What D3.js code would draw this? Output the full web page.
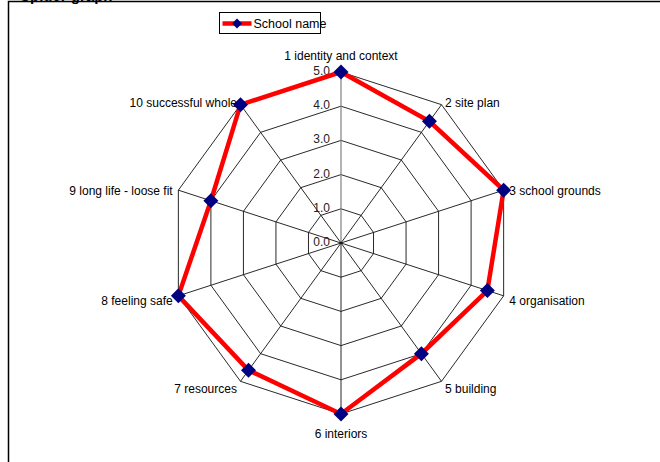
<!DOCTYPE html>
<html>
<head>
<meta charset="utf-8">
<script src="https://cdn.jsdelivr.net/npm/d3@7"></script>
<style>
  body { margin: 0; background: #fff; }
  svg { display: block; font-family: "Liberation Sans", Arial, sans-serif; }
</style>
</head>
<body>
<div class="chart-container"></div>
<script>
// --- Data ---
const categories = [
  "1 identity and context", "2 site plan", "3 school grounds", "4 organisation",
  "5 building", "6 interiors", "7 resources", "8 feeling safe",
  "9 long life - loose fit", "10 successful whole"
];
const values = [5.0, 4.4, 5.0, 4.5, 4.0, 5.0, 4.6, 5.0, 4.0, 5.0];
const tickValues = [0, 1, 2, 3, 4, 5];
const seriesName = "School name";

// --- Layout ---
const w = 660, h = 462;
const cx = 341, cy = 243;
const R = 171;

const svg = d3.select(".chart-container").append("svg")
    .attr("width", w)
    .attr("height", h);

// frame of the chart area and the cut-off heading above it
svg.append("text")
    .attr("x", 20).attr("y", 1)
    .attr("font-size", "15px").attr("font-weight", "bold")
    .text("Spider graph");
svg.append("path")
    .attr("d", "M8.5,462 V1.5 H660")
    .attr("fill", "none").attr("stroke", "#000").attr("stroke-width", 1.5);

const rScale = d3.scaleLinear().domain([0, 5]).range([0, R]);
const angle = d3.scaleLinear().domain([0, categories.length]).range([0, 2 * Math.PI]);

const g = svg.append("g").attr("transform", `translate(${cx},${cy})`);

// grid polygons
const gridLine = d3.lineRadial()
    .angle((d, i) => angle(i))
    .radius(d => rScale(d))
    .curve(d3.curveLinearClosed);

g.selectAll(".grid")
    .data(tickValues.slice(1))
    .enter().append("path")
    .attr("d", t => gridLine(categories.map(() => t)))
    .attr("fill", "none")
    .attr("stroke", "#111")
    .attr("stroke-width", 0.9);

// spokes
g.selectAll(".spoke")
    .data(categories)
    .enter().append("line")
    .attr("x1", 0).attr("y1", 0)
    .attr("x2", (d, i) => rScale(5) * Math.sin(angle(i)))
    .attr("y2", (d, i) => -rScale(5) * Math.cos(angle(i)))
    .attr("stroke", (d, i) => i === 0 ? "#808080" : "#111")
    .attr("stroke-width", (d, i) => i === 0 ? 1.2 : 0.9);

// tick labels on the vertical axis
g.selectAll(".tick")
    .data(tickValues)
    .enter().append("text")
    .attr("x", -11)
    .attr("y", t => -rScale(t) + 3)
    .attr("text-anchor", "end")
    .attr("font-size", "12px")
    .attr("fill", "#222")
    .text(t => t.toFixed(1));

// category labels
g.selectAll(".cat")
    .data(categories)
    .enter().append("text")
    .attr("font-size", "12px")
    .attr("fill", "#000")
    .attr("text-anchor", (d, i) => {
      const s = Math.sin(angle(i));
      return s > 0.01 ? "start" : (s < -0.01 ? "end" : "middle");
    })
    .attr("x", (d, i) => (R + 6) * Math.sin(angle(i)))
    .attr("y", (d, i) => {
      const c = Math.cos(angle(i));
      if (Math.abs(Math.sin(angle(i))) < 0.01) return c > 0 ? -R - 12 : R + 24;
      return -(R + 6) * c + 7;
    })
    .text(d => d);

// data series
const dataLine = d3.lineRadial()
    .angle((d, i) => angle(i))
    .radius(d => rScale(d))
    .curve(d3.curveLinearClosed);

g.append("path")
    .attr("d", dataLine(values))
    .attr("fill", "none")
    .attr("stroke", "#ff0000")
    .attr("stroke-width", 4.5)
    .attr("stroke-linejoin", "miter");

const diamond = s => `M0,${-s} L${s},0 L0,${s} L${-s},0 Z`;

g.selectAll(".marker")
    .data(values)
    .enter().append("path")
    .attr("d", diamond(7.5))
    .attr("transform", (d, i) =>
      `translate(${rScale(d) * Math.sin(angle(i))},${-rScale(d) * Math.cos(angle(i))})`)
    .attr("fill", "#000080");

// legend
const lg = svg.append("g").attr("transform", "translate(219.5,12.5)");
lg.append("rect")
    .attr("width", 101).attr("height", 21)
    .attr("fill", "#fff").attr("stroke", "#000").attr("stroke-width", 1);
lg.append("line")
    .attr("x1", 3).attr("x2", 32).attr("y1", 11).attr("y2", 11)
    .attr("stroke", "#ff0000").attr("stroke-width", 4.5);
lg.append("path")
    .attr("d", diamond(5))
    .attr("transform", "translate(17.5,11)")
    .attr("fill", "#000080");
lg.append("text")
    .attr("x", 34).attr("y", 15.5)
    .attr("font-size", "12.5px")
    .text(seriesName);
</script>
</body>
</html>
